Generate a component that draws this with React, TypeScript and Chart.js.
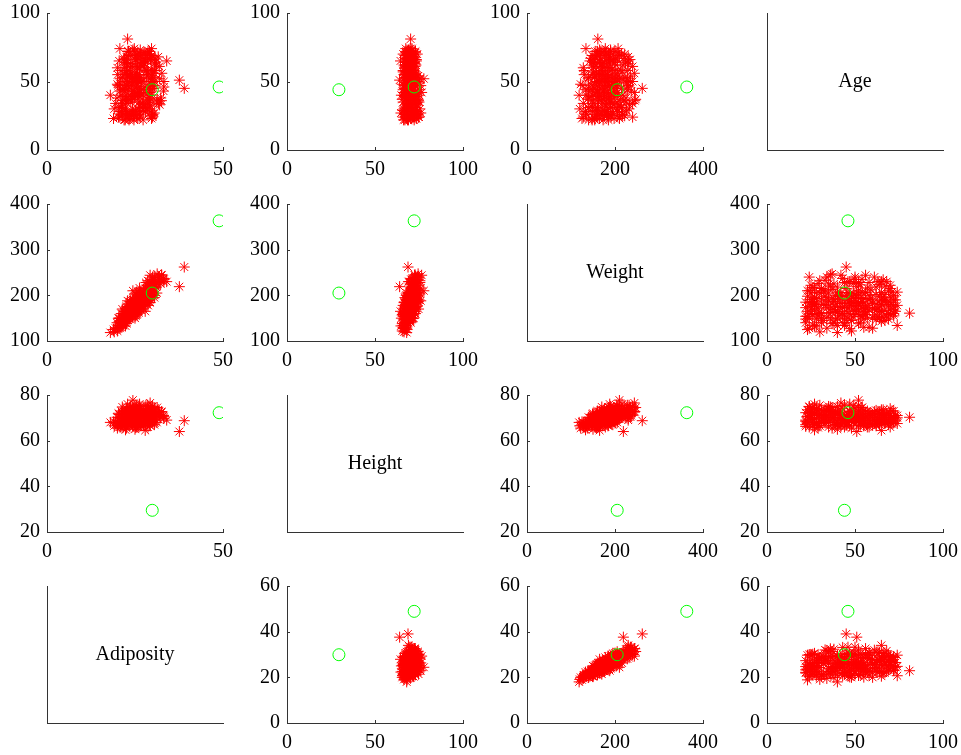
import { useEffect, useRef } from "react";
import { Chart, registerables } from "chart.js";

Chart.register(...registerables);

const age = [
  23, 22, 22, 26, 24, 24, 26, 25, 25, 23,
  26, 27, 32, 30, 35, 35, 34, 32, 28, 33,
  28, 28, 41, 41, 40, 42, 42, 38, 40, 38,
  43, 40, 49, 47, 50, 46, 50, 45, 51, 44,
  47, 46, 48, 47, 53, 51, 52, 50, 53, 55,
  54, 55, 54, 55, 54, 57, 58, 56, 62, 63,
  64, 65, 66, 67, 69, 70, 72, 72, 74, 68,
  62, 64, 66, 70, 65, 81, 65, 40, 23, 27,
  22, 24, 26, 29, 31, 35, 37, 39, 44, 45,
  48, 49, 52, 57, 59, 60, 61, 63, 69, 72,
  74, 70, 42, 38, 56, 33, 36, 31, 29, 25,
  47, 52, 45, 58, 65, 52, 35, 43, 39, 34,
  27, 50, 60, 67, 44, 37, 30, 53, 72, 46,
  22, 23, 24, 25, 26, 27, 28, 29, 30, 31,
  32, 33, 34, 35, 36, 37, 38, 39, 40, 41,
  42, 43, 44, 45, 46, 47, 48, 49, 50, 51,
  52, 53, 54, 55, 56, 57, 58, 59, 60, 61,
  62, 63, 64, 65, 66, 67, 68, 69, 70, 71,
  72, 73, 74, 23, 24, 25, 26, 27, 28, 29,
  31, 33, 34, 36, 37, 38, 39, 40, 41, 42,
  43, 44, 45, 46, 47, 48, 49, 50, 51, 52,
  53, 54, 55, 56, 57, 58, 60, 62, 63, 64,
  65, 66, 67, 68, 69, 70, 71, 72, 73, 22,
  25, 28, 31, 34, 37, 40, 43, 46, 49, 52,
  55, 58, 61, 64, 67, 70, 36, 50, 60, 30,
];
const weight = [
  154, 173, 154, 185, 184, 210, 181, 176, 191, 198,
  186, 216, 180, 205, 187, 162, 195, 209, 183, 211,
  193, 133, 199, 197, 134, 197, 206, 187, 165, 169,
  237, 150, 168, 127, 201, 172, 193, 262, 219, 176,
  182, 206, 145, 160, 184, 176, 182, 158, 223, 148,
  186, 183, 155, 163, 207, 164, 191, 173, 168, 185,
  224, 190, 234, 167, 177, 170, 168, 190, 207, 155,
  147, 198, 152, 158, 206, 161, 230, 118.5, 125, 133,
  148, 240, 217, 160, 140, 225, 247, 164, 134, 200,
  178, 226, 139, 216, 194, 151, 172, 230, 210, 175,
  134, 196, 244, 225, 244, 178, 170, 149, 155, 170,
  188, 203, 140, 130, 165, 210, 190, 173, 146, 152,
  168, 165, 182, 145, 157, 213, 232, 154, 160, 192,
  140, 165, 128, 205, 158, 195, 176, 226, 162, 190,
  145, 233, 173, 205, 150, 181, 140, 200, 218, 174,
  160, 190, 148, 215, 184, 230, 196, 153, 178, 200,
  166, 140, 235, 193, 158, 178, 168, 212, 188, 157,
  202, 170, 150, 180, 196, 220, 185, 160, 215, 180,
  200, 165, 178, 210, 150, 222, 135, 180, 206, 172,
  160, 198, 128, 220, 162, 192, 176, 207, 155, 182,
  140, 228, 165, 150, 203, 122, 186, 240, 170, 228,
  195, 172, 130, 206, 150, 228, 172, 218, 154, 175,
  143, 188, 202, 230, 148, 185, 207, 155, 190, 185,
  160, 148, 215, 240, 138, 185, 160, 230, 205, 184,
  170, 200, 240, 165, 188, 222, 245, 235, 128, 120,
];
const height = [
  67.75, 72.25, 66.25, 72.25, 71.25, 74.75, 69.75, 72.5, 74, 73.5,
  74.5, 76, 69.5, 71.25, 69.5, 66, 71, 71, 67.75, 73.5,
  73.5, 67.5, 71.5, 72, 67, 72.5, 71, 72.75, 67, 70,
  71, 65, 68, 66.5, 69, 68, 71, 68.75, 64, 68,
  73, 70.5, 70, 70.5, 70, 69.5, 70, 69.75, 72, 66.5,
  74.5, 70, 69, 67, 71.75, 67.5, 69, 71, 66.5, 68.5,
  71.5, 68.5, 73.5, 67.5, 68, 68, 69, 67.75, 70, 69.5,
  67.25, 71.75, 70, 66, 73.5, 70.25, 69, 68, 68.25, 64.75,
  68.5, 75, 71.25, 71, 68.25, 74, 74.5, 72.5, 66, 68.5,
  72, 72.5, 68.5, 73, 72, 69.5, 68.75, 72.5, 70.5, 73,
  67.5, 69, 76.5, 70, 72.5, 67.75, 74.75, 71.5, 65.75, 70,
  76, 75.5, 66.75, 66, 64.5, 77.75, 75, 70, 67, 70.5,
  72, 72.75, 70.5, 68, 69, 72.5, 75.5, 66.75, 70, 69.75,
  67, 70.5, 66, 69.25, 68, 67, 74, 73, 68.5, 70.75,
  69, 71.5, 73.25, 68, 68.75, 71.75, 70.25, 73, 72, 69,
  66.25, 74, 69.5, 70.5, 71.5, 72.75, 68.5, 68, 69.5, 71.5,
  70, 67.75, 74.5, 68.75, 70.25, 66, 72, 71, 69, 67.5,
  73.25, 70, 68, 70.5, 68.5, 71, 72, 68.75, 72, 67.5,
  70, 69, 71, 70.5, 72, 72.5, 66.75, 71.75, 74, 66.5,
  73, 69, 68, 72.75, 70, 68, 72, 75, 67.5, 69.75,
  69, 75.5, 67, 71.5, 69, 65.5, 70.25, 74.25, 68.25, 70.75,
  73.5, 69.5, 67.5, 69.5, 68.5, 72, 71.5, 70.25, 69.25, 67,
  70, 72.5, 71.25, 71.5, 67, 70, 73, 68.5, 71, 69,
  72.5, 70, 73.5, 73, 65.5, 66.75, 71.25, 69.75, 75.25, 66.5,
  73, 67.75, 72.75, 72, 68, 74, 72.75, 70.5, 67, 66.5,
];
const adiposity = [
  23.6, 23.3, 24.7, 24.9, 25.5, 26.4, 26.2, 23.5, 24.5, 25.8,
  23.6, 26.3, 26.2, 28.4, 27.2, 26.1, 27.2, 29.2, 28.0, 27.5,
  25.1, 20.5, 27.4, 26.7, 21.0, 26.3, 28.7, 24.8, 25.8, 24.3,
  33.1, 25.0, 25.5, 20.2, 29.7, 26.1, 26.9, 39.0, 37.6, 26.8,
  24.0, 29.1, 20.8, 22.6, 26.4, 25.6, 26.1, 22.8, 30.2, 23.5,
  23.6, 26.3, 22.9, 25.5, 28.3, 25.3, 28.2, 24.1, 26.7, 27.7,
  30.8, 28.5, 30.4, 25.8, 26.9, 25.8, 24.8, 29.1, 29.7, 22.6,
  22.8, 27.1, 21.8, 25.5, 26.8, 22.9, 34.0, 18.0, 18.9, 22.3,
  22.2, 30.0, 30.1, 22.3, 21.1, 28.9, 31.3, 21.9, 21.6, 30.0,
  24.1, 30.0, 20.8, 28.5, 26.3, 22.0, 25.6, 30.6, 29.7, 23.1,
  20.7, 29.0, 29.3, 32.3, 32.6, 27.3, 21.4, 20.5, 25.2, 24.4,
  22.9, 25.0, 22.1, 21.0, 27.9, 24.4, 23.8, 24.8, 22.9, 21.5,
  22.8, 21.9, 25.7, 22.0, 23.2, 28.5, 28.6, 24.3, 23.0, 27.8,
  21.9, 23.3, 20.7, 30.0, 24.0, 30.5, 22.6, 29.8, 24.3, 26.7,
  21.4, 32.0, 22.7, 31.2, 22.3, 24.7, 19.9, 26.4, 29.6, 25.7,
  25.6, 24.4, 21.5, 30.4, 25.3, 30.5, 29.4, 23.3, 25.9, 27.5,
  23.8, 21.4, 29.8, 28.7, 22.5, 28.7, 22.8, 29.6, 27.8, 24.2,
  26.5, 24.4, 22.8, 25.5, 29.4, 30.7, 25.1, 23.8, 29.2, 27.8,
  28.7, 24.4, 24.8, 29.7, 20.3, 29.7, 21.3, 24.6, 26.5, 27.3,
  21.1, 29.2, 19.5, 29.2, 23.2, 29.2, 23.9, 25.9, 23.9, 26.3,
  20.7, 28.1, 25.8, 20.6, 30.0, 20.0, 26.5, 30.6, 25.7, 32.0,
  25.4, 25.0, 20.1, 30.0, 22.5, 30.9, 23.7, 31.1, 22.6, 27.4,
  20.5, 25.1, 28.0, 31.6, 23.2, 26.5, 27.3, 23.2, 26.5, 27.3,
  21.4, 21.2, 28.0, 31.7, 22.6, 29.2, 22.2, 33.2, 25.4, 29.3,
  22.4, 30.6, 31.9, 22.4, 28.6, 28.5, 32.5, 33.2, 20.0, 19.1,
];

// flagged observations (green circles)
const outlierAge = [44, 46];
const outlierWeight = [205, 363.15];
const outlierHeight = [29.5, 72.25];
const outlierAdiposity = [29.9, 48.9];

const rowVariables = ["Age", "Weight", "Height", "Adiposity"];
const colVariables = ["Adiposity", "Height", "Weight", "Age"];

const xLimits: Record<string, [number, number]> = {
  Age: [0, 100],
  Weight: [0, 400],
  Height: [0, 100],
  Adiposity: [0, 50],
};
const xTickValues: Record<string, number[]> = {
  Age: [0, 50, 100],
  Weight: [0, 200, 400],
  Height: [0, 50, 100],
  Adiposity: [0, 50],
};
const yLimits: Record<string, [number, number]> = {
  Age: [0, 100],
  Weight: [100, 400],
  Height: [20, 80],
  Adiposity: [0, 60],
};
const yTickValues: Record<string, number[]> = {
  Age: [0, 50, 100],
  Weight: [100, 200, 300, 400],
  Height: [20, 40, 60, 80],
  Adiposity: [0, 20, 40, 60],
};

const seriesByName: Record<string, number[]> = {
  Age: age,
  Weight: weight,
  Height: height,
  Adiposity: adiposity,
};
const outliersByName: Record<string, number[]> = {
  Age: outlierAge,
  Weight: outlierWeight,
  Height: outlierHeight,
  Adiposity: outlierAdiposity,
};

// ---- layout ----
const PLOT_LEFT0 = 47;
const COL_STEP = 240;
const PLOT_W = 176;
const PLOT_TOP0 = 13;
const ROW_STEP = 191;
const PLOT_H = 137;
const AXIS_W = 47;
const PAD_TOP = 24;
const PAD_RIGHT = 28;
const AXIS_H = 32;
const FONT = "'Liberation Serif', 'DejaVu Serif', serif";
const AXIS_COLOR = "#333333";
const RED = "rgb(255,0,0)";
const GREEN = "rgb(0,255,0)";

function Panel({ row, col }: { row: number; col: number }) {
  const ref = useRef<HTMLCanvasElement>(null);
  const canvasW = AXIS_W + PLOT_W + PAD_RIGHT;
  const canvasH = PAD_TOP + PLOT_H + AXIS_H;
  const left = PLOT_LEFT0 + COL_STEP * col - AXIS_W;
  const top = PLOT_TOP0 + ROW_STEP * row - PAD_TOP;

  useEffect(() => {
    if (!ref.current) return;
    const xVar = colVariables[col];
    const yVar = rowVariables[row];
    const isLabel = xVar === yVar;
    const xs = seriesByName[xVar];
    const ys = seriesByName[yVar];
    const oxs = outliersByName[xVar];
    const oys = outliersByName[yVar];

    // the first dataset is painted last (on top) by Chart.js
    const datasets: any[] = isLabel
      ? []
      : [
          {
            data: oxs.map((v, i) => ({ x: v, y: oys[i] })),
            borderColor: GREEN,
            backgroundColor: "rgba(0,0,0,0)",
            pointStyle: "circle",
            pointRadius: 6,
            pointHoverRadius: 6,
            pointBorderColor: GREEN,
            pointHoverBorderColor: GREEN,
            pointBackgroundColor: "rgba(0,0,0,0)",
            pointHoverBackgroundColor: "rgba(0,0,0,0)",
            pointBorderWidth: 1,
            pointHoverBorderWidth: 1,
            showLine: false,
          },
          {
            data: xs.map((v, i) => ({ x: v, y: ys[i] })),
            borderColor: RED,
            backgroundColor: RED,
            pointStyle: "star",
            pointRadius: 5.5,
            pointHoverRadius: 5.5,
            pointBorderColor: RED,
            pointHoverBorderColor: RED,
            pointBackgroundColor: RED,
            pointHoverBackgroundColor: RED,
            pointBorderWidth: 1,
            pointHoverBorderWidth: 1,
            showLine: false,
          },
        ];

    const xTicks = xTickValues[xVar];
    const yTicks = yTickValues[yVar];

    const decorPlugin = {
      id: "decor",
      afterDraw(chart: any) {
        const ctx = chart.ctx;
        const area = chart.chartArea;
        ctx.save();
        if (isLabel) {
          ctx.fillStyle = "#000";
          ctx.font = `20px ${FONT}`;
          ctx.textAlign = "center";
          ctx.textBaseline = "middle";
          ctx.fillText(xVar, (area.left + area.right) / 2, (area.top + area.bottom) / 2);
        } else {
          ctx.strokeStyle = AXIS_COLOR;
          ctx.lineWidth = 1;
          const xs2 = chart.scales.x;
          const ys2 = chart.scales.y;
          ctx.beginPath();
          xTicks.forEach((v) => {
            const px = Math.round(xs2.getPixelForValue(v)) + 0.5;
            ctx.moveTo(px, area.bottom);
            ctx.lineTo(px, area.bottom - 3);
          });
          yTicks.forEach((v) => {
            const py = Math.round(ys2.getPixelForValue(v)) + 0.5;
            ctx.moveTo(area.left, py);
            ctx.lineTo(area.left + 3, py);
          });
          ctx.stroke();
        }
        ctx.restore();
      },
    };

    const tickFont = { family: FONT, size: 20 };

    const chart = new Chart(ref.current, {
      type: "scatter",
      data: { datasets },
      options: {
        animation: false,
        responsive: false,
        events: [],
        layout: { padding: { left: 0, top: PAD_TOP, right: PAD_RIGHT, bottom: 0 } },
        plugins: {
          legend: { display: false },
          tooltip: { enabled: false },
          colors: { enabled: false },
        },
        scales: {
          x: {
            type: "linear",
            min: xLimits[xVar][0],
            max: xLimits[xVar][1],
            afterBuildTicks: (s: any) => {
              s.ticks = xTicks.map((v) => ({ value: v }));
            },
            afterFit: (s: any) => {
              s.height = AXIS_H;
            },
            grid: { display: true, drawOnChartArea: false, drawTicks: false },
            border: { display: true, color: AXIS_COLOR, width: 1 },
            ticks: {
              display: !isLabel,
              padding: 8,
              color: "#000",
              font: tickFont,
              maxRotation: 0,
              autoSkip: false,
              callback: (v: any) => String(v),
            },
          },
          y: {
            type: "linear",
            min: yLimits[yVar][0],
            max: yLimits[yVar][1],
            afterBuildTicks: (s: any) => {
              s.ticks = yTicks.map((v) => ({ value: v }));
            },
            afterFit: (s: any) => {
              s.width = AXIS_W;
            },
            grid: { display: true, drawOnChartArea: false, drawTicks: false },
            border: { display: true, color: AXIS_COLOR, width: 1 },
            ticks: {
              display: !isLabel,
              padding: 7,
              color: "#000",
              font: tickFont,
              autoSkip: false,
              callback: (v: any) => String(v),
            },
          },
        },
      } as any,
      plugins: [decorPlugin],
    });
    return () => chart.destroy();
  }, [row, col]);

  return (
    <div style={{ position: "absolute", left, top, width: canvasW, height: canvasH }}>
      <canvas ref={ref} width={canvasW} height={canvasH} style={{ width: canvasW, height: canvasH, display: "block" }} />
    </div>
  );
}

export default function App() {
  const panels: JSX.Element[] = [];
  for (let r = 0; r < 4; r++) {
    for (let c = 0; c < 4; c++) {
      panels.push(<Panel key={`${r}-${c}`} row={r} col={c} />);
    }
  }
  return (
    <div
      style={{
        position: "absolute",
        left: 0,
        top: 0,
        width: 961,
        height: 755,
        overflow: "hidden",
        background: "#fff",
      }}
    >
      {panels}
    </div>
  );
}
